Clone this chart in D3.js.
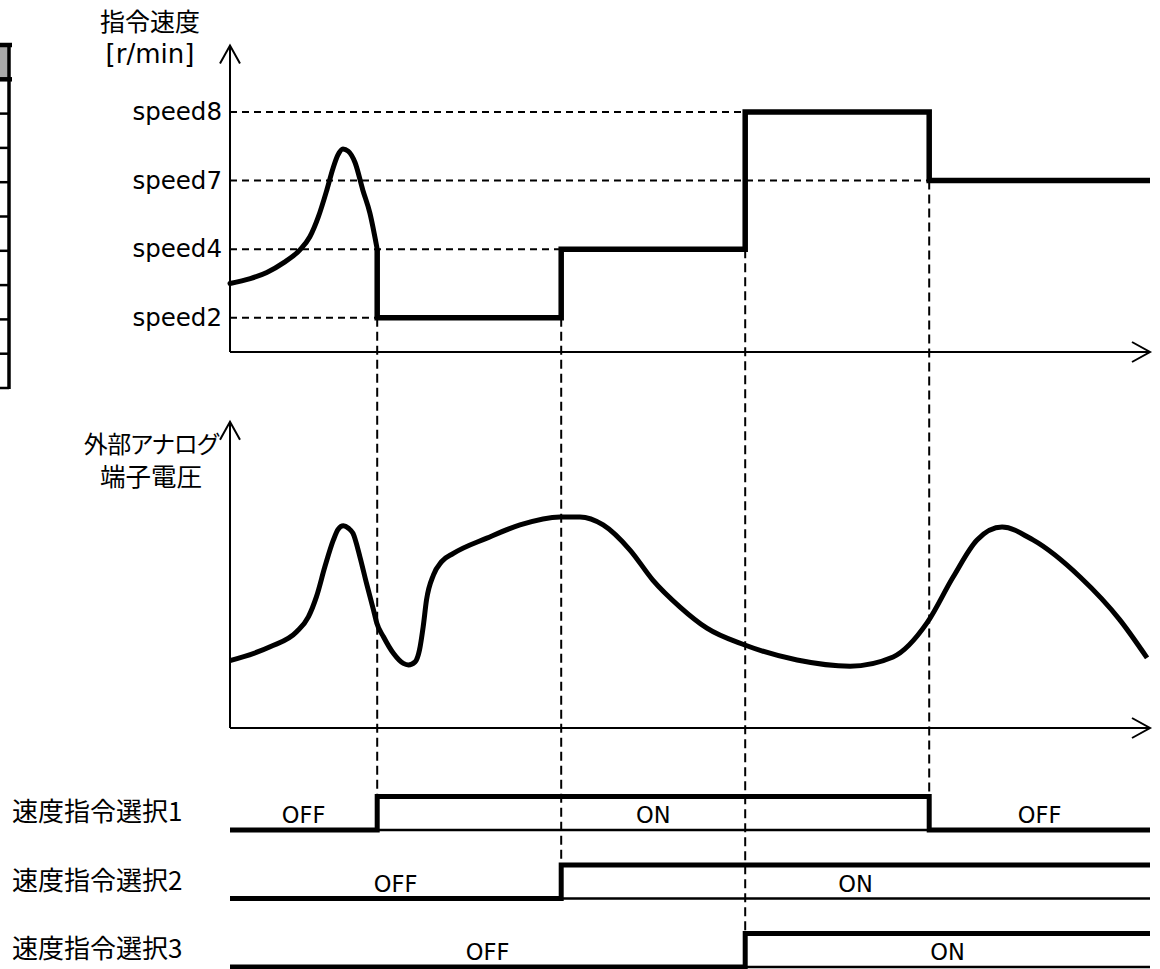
<!DOCTYPE html>
<html>
<head>
<meta charset="utf-8">
<script src="https://cdn.jsdelivr.net/npm/d3@7"></script>
<style>
  html, body { margin: 0; padding: 0; background: #fff; }
  svg { display: block; }
  text { fill: #000; }
</style>
</head>
<body>
<svg id="chart" width="1160" height="969"></svg>
<script>
// ---- data -------------------------------------------------------------
// time axis runs from 0 to T_END (arbitrary units)
const T_END = 25;

// speed levels shown on the command-speed axis (bottom to top)
const speedTicks = ["speed2", "speed4", "speed7", "speed8"];

// speed command following the analog input before the first selection [t, level]
const speedRamp = [
  [0, 1.50], [0.55, 1.57], [1.0, 1.66], [1.45, 1.80], [1.9, 1.99],
  [2.17, 2.18], [2.4, 2.47], [2.63, 2.86], [2.8, 3.18], [2.93, 3.37],
  [3.07, 3.46], [3.21, 3.43], [3.4, 3.26], [3.61, 2.86], [3.8, 2.53],
  [4.0, 2.0]
];

// preset speeds selected from each switching instant
const speedSteps = [
  { t: 4,  level: "speed2" },
  { t: 9,  level: "speed4" },
  { t: 14, level: "speed8" },
  { t: 19, level: "speed7" }
];

// external analog terminal voltage [t, volts (arb.)]
const analogVoltage = [
  [0, 2.2], [1.09, 2.65], [1.81, 3.14], [2.13, 3.63], [2.35, 4.29],
  [2.58, 5.27], [2.81, 6.14], [2.94, 6.49], [3.08, 6.6], [3.22, 6.52],
  [3.34, 6.36], [3.53, 5.59], [3.71, 4.72], [3.9, 3.85], [3.99, 3.42],
  [4.17, 2.98], [4.44, 2.44], [4.71, 2.11], [4.85, 2.06], [5.03, 2.16],
  [5.15, 2.55], [5.25, 3.31], [5.34, 4.18], [5.53, 5.0], [5.75, 5.43],
  [6.07, 5.7], [6.98, 6.2], [7.88, 6.63], [8.97, 6.89], [9.51, 6.89],
  [10.14, 6.63], [10.87, 5.81], [11.49, 4.83], [12.23, 3.95], [12.96, 3.26],
  [13.99, 2.71], [15.41, 2.22], [16.85, 2.02], [18.02, 2.32], [18.94, 3.43],
  [19.65, 4.93], [20.3, 6.14], [20.98, 6.56], [21.82, 6.14], [23.1, 4.93],
  [24.18, 3.53], [24.92, 2.29]
];

// speed command selection inputs: [t, state] transitions (0 = OFF, 1 = ON)
const selectNames = ["速度指令選択1", "速度指令選択2", "速度指令選択3"];
const select1 = [[0, 0], [4, 1], [19, 0]];
const select2 = [[0, 0], [9, 1]];
const select3 = [[0, 0], [14, 1]];
const selectStates = [select1, select2, select3];
const stateText = ["OFF", "ON"];

// axis titles
const speedTitle = ["指令速度", "[r/min]"];
const analogTitle = ["外部アナログ", "端子電圧"];

// rows of the parameter table at the left edge
const tableRowCount = 9;

// ---- scales -----------------------------------------------------------
const svg = d3.select("#chart");
const LATIN = "'DejaVu Sans', 'Noto Sans CJK JP', sans-serif";
const CJK = "'Noto Sans CJK JP', sans-serif";

const x = d3.scaleLinear().domain([0, T_END]).range([230, 1150]);
const yTop = d3.scaleLinear().domain([0.5, 4]).range([352, 112]);
const yAn = d3.scaleLinear().domain([0, 10]).range([728, 421.7]);
const yRow = d3.scalePoint().domain(selectNames).range([830, 967]);
const PULSE = 33.5;
const levelOf = name => speedTicks.indexOf(name) + 1;

// ---- table fragment ---------------------------------------------------
const yTable = d3.scaleLinear().domain([0, tableRowCount + 1]).range([45, 388]);
const tbl = svg.append("g");
tbl.append("rect").attr("x", -20).attr("y", yTable(0)).attr("width", 29)
  .attr("height", yTable(1) - yTable(0)).attr("fill", "#a9a9a9");
d3.range(2, tableRowCount + 2).forEach(i => {
  tbl.append("line").attr("x1", -20).attr("x2", 9)
    .attr("y1", yTable(i)).attr("y2", yTable(i))
    .attr("stroke", "#000").attr("stroke-width", 2.5);
});
[0, 1].forEach(i => {
  tbl.append("line").attr("x1", -20).attr("x2", 12)
    .attr("y1", yTable(i)).attr("y2", yTable(i))
    .attr("stroke", "#000").attr("stroke-width", 4.5);
});
tbl.append("line").attr("x1", 9).attr("x2", 9)
  .attr("y1", yTable(0) - 2).attr("y2", yTable(tableRowCount + 1) + 1)
  .attr("stroke", "#000").attr("stroke-width", 3.5);

// ---- helpers ----------------------------------------------------------
function chevron(tipX, tipY, dir) {
  const a = 18, b = 10;
  let d;
  if (dir === "up") d = `M${tipX - b},${tipY + a}L${tipX},${tipY}L${tipX + b},${tipY + a}`;
  else d = `M${tipX - a},${tipY - b}L${tipX},${tipY}L${tipX - a},${tipY + b}`;
  svg.append("path").attr("d", d).attr("fill", "none")
    .attr("stroke", "#000").attr("stroke-width", 2);
}
function axesPair(yBase, yTip) {
  svg.append("line").attr("x1", x(0)).attr("x2", x(0)).attr("y1", yTip).attr("y2", yBase)
    .attr("stroke", "#000").attr("stroke-width", 2);
  svg.append("line").attr("x1", x(0)).attr("x2", x(T_END)).attr("y1", yBase).attr("y2", yBase)
    .attr("stroke", "#000").attr("stroke-width", 2);
  chevron(x(0), yTip, "up");
  chevron(x(T_END), yBase, "right");
}
const dash = (sel, pattern) => sel.attr("stroke", "#000").attr("stroke-width", 2)
  .attr("stroke-dasharray", pattern).attr("fill", "none");

// ---- guides -----------------------------------------------------------
// horizontal level guides: from the axis to where each level is first commanded
speedTicks.forEach(name => {
  const step = speedSteps.find(s => s.level === name);
  svg.append("line").attr("x1", x(0)).attr("x2", x(step.t))
    .attr("y1", yTop(levelOf(name))).attr("y2", yTop(levelOf(name)))
    .call(dash, "7,5");
});
// vertical guides: from each speed change down to the switching input
speedSteps.forEach((s, i) => {
  const prev = i === 0 ? speedRamp[speedRamp.length - 1][1] : levelOf(speedSteps[i - 1].level);
  const cur = levelOf(s.level);
  const idx = selectStates.findIndex(tr => tr.some(p => p[0] === s.t && p[0] > 0));
  const yEnd = yRow(selectNames[idx]) - PULSE;
  svg.append("line").attr("x1", x(s.t)).attr("x2", x(s.t))
    .attr("y1", yTop(Math.min(prev, cur))).attr("y2", yEnd)
    .call(dash, "9,5");
});

// ---- axes -------------------------------------------------------------
axesPair(yTop(0.5), yTop(4.97));
axesPair(yAn(0), yAn(10));

const gSpeed = svg.append("g").attr("transform", `translate(${x(0)},0)`)
  .call(d3.axisLeft(yTop).tickValues([1, 2, 3, 4])
    .tickFormat(i => speedTicks[i - 1]).tickSize(0).tickPadding(8));
gSpeed.select(".domain").remove();
gSpeed.attr("font-family", null).attr("font-size", null);
gSpeed.selectAll("text").attr("font-family", LATIN).attr("font-size", 24.5)
  .attr("fill", "#000");

// axis titles (two lines each)
const speedLabel = svg.append("text").attr("text-anchor", "middle");
speedLabel.append("tspan").attr("x", 150).attr("y", 31)
  .attr("font-family", CJK).attr("font-size", 25).text(speedTitle[0]);
speedLabel.append("tspan").attr("x", 150).attr("y", 63)
  .attr("font-family", LATIN).attr("font-size", 26).text(speedTitle[1]);

const analogLabel = svg.append("text").attr("text-anchor", "middle")
  .attr("font-family", CJK);
analogLabel.append("tspan").attr("x", 151).attr("y", 453)
  .attr("font-size", 24).attr("letter-spacing", -0.6)
  .style("font-feature-settings", "'palt'").text(analogTitle[0]);
analogLabel.append("tspan").attr("x", 151).attr("y", 486)
  .attr("font-size", 25.5).text(analogTitle[1]);

// ---- speed command ----------------------------------------------------
svg.append("path").datum(speedRamp)
  .attr("d", d3.line().x(d => x(d[0])).y(d => yTop(d[1])).curve(d3.curveMonotoneX))
  .attr("fill", "none").attr("stroke", "#000").attr("stroke-width", 5)
  .attr("stroke-linecap", "round");

const stepPts = [speedRamp[speedRamp.length - 1]]
  .concat(speedSteps.map(s => [s.t, levelOf(s.level)]))
  .concat([[T_END, levelOf(speedSteps[speedSteps.length - 1].level)]]);
svg.append("path").datum(stepPts)
  .attr("d", d3.line().x(d => x(d[0])).y(d => yTop(d[1])).curve(d3.curveStepAfter))
  .attr("fill", "none").attr("stroke", "#000").attr("stroke-width", 5.5)
  .attr("stroke-linejoin", "miter");

// ---- analog voltage ---------------------------------------------------
svg.append("path").datum(analogVoltage)
  .attr("d", d3.line().x(d => x(d[0])).y(d => yAn(d[1])).curve(d3.curveMonotoneX))
  .attr("fill", "none").attr("stroke", "#000").attr("stroke-width", 5)
  .attr("stroke-linejoin", "round");

// ---- selection inputs -------------------------------------------------
selectNames.forEach((name, i) => {
  const tr = selectStates[i];
  const base = yRow(name);
  const yS = s => base - s * PULSE;
  const pts = tr.concat([[T_END, tr[tr.length - 1][1]]]);

  svg.append("text").attr("x", 12).attr("y", base - 9)
    .attr("font-family", CJK).attr("font-size", 26).text(name);

  for (let k = 0; k < pts.length - 1; k++) {
    // thin baseline under ON intervals
    if (pts[k][1] === 1) {
      svg.append("line").attr("x1", x(pts[k][0])).attr("x2", x(pts[k + 1][0]))
        .attr("y1", base).attr("y2", base)
        .attr("stroke", "#000").attr("stroke-width", 2.5);
    }
    // state label centred in each interval
    svg.append("text")
      .attr("x", (x(pts[k][0]) + x(pts[k + 1][0])) / 2).attr("y", base - 7)
      .attr("text-anchor", "middle").attr("font-family", LATIN).attr("font-size", 22.5)
      .text(stateText[pts[k][1]]);
  }

  svg.append("path").datum(pts)
    .attr("d", d3.line().x(d => x(d[0])).y(d => yS(d[1])).curve(d3.curveStepAfter))
    .attr("fill", "none").attr("stroke", "#000").attr("stroke-width", 5)
    .attr("stroke-linejoin", "miter");
});
</script>
</body>
</html>
